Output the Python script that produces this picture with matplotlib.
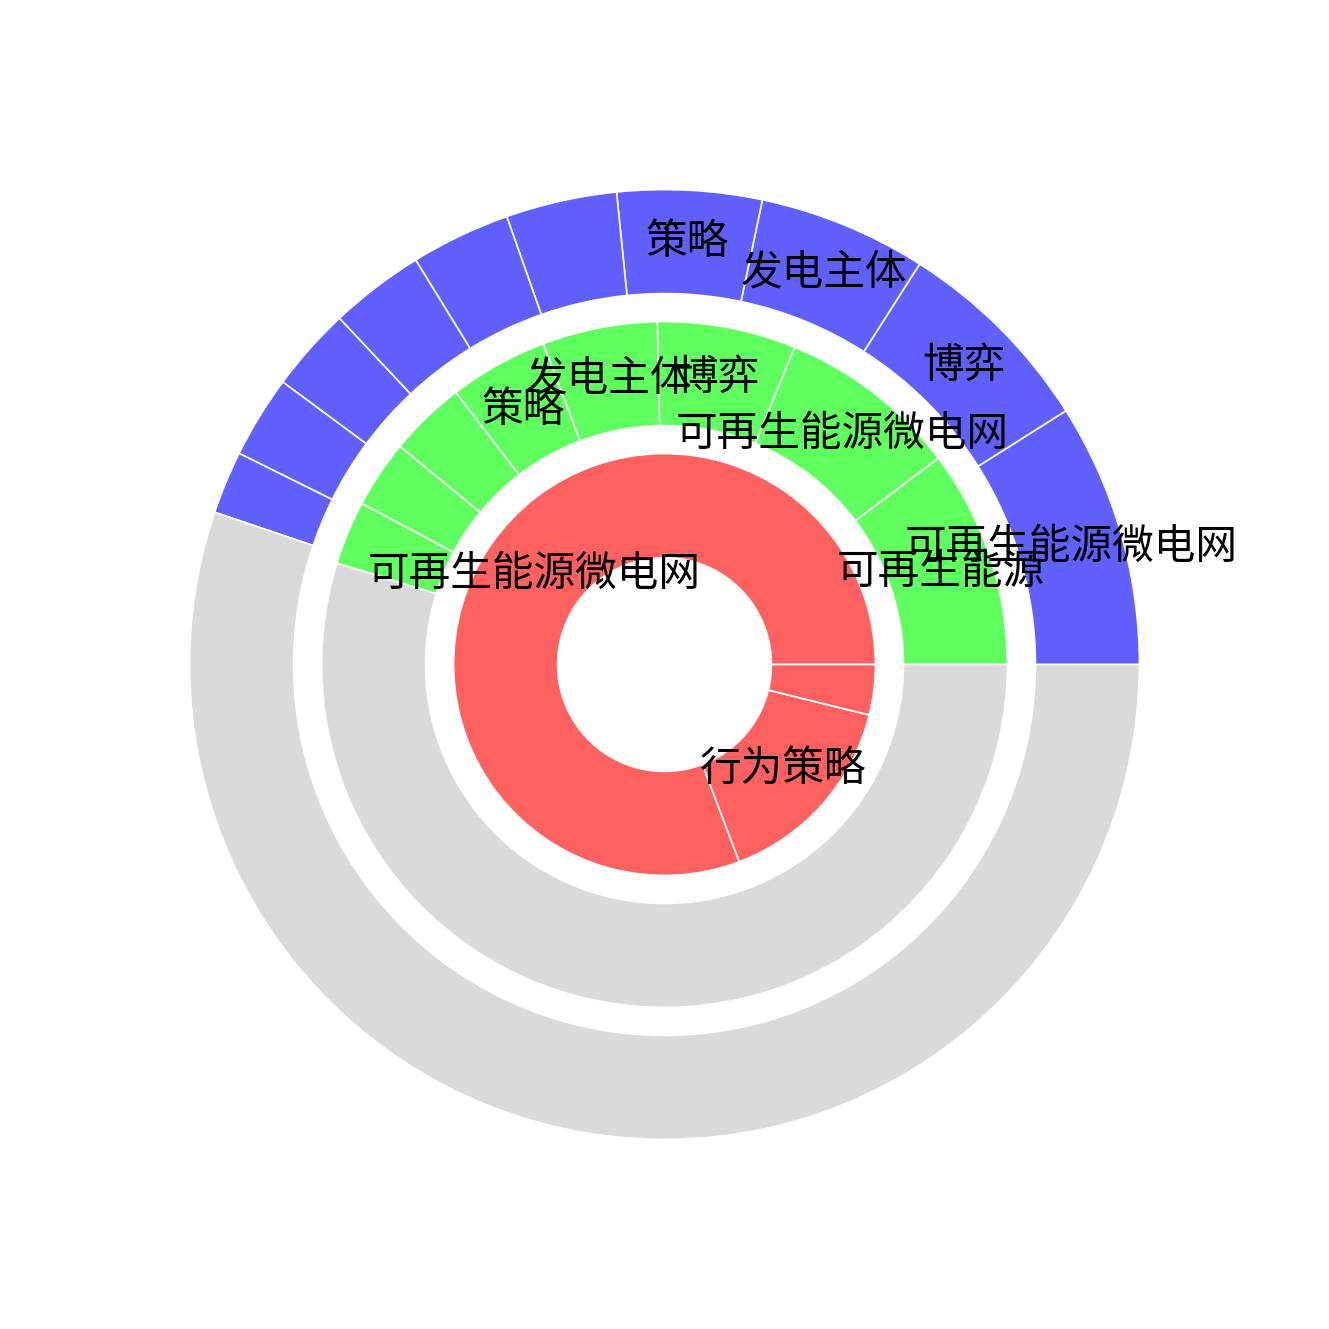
import numpy as np
import matplotlib
matplotlib.use("Agg")
import matplotlib.pyplot as plt

plt.rcParams['font.family'] = ['Noto Sans CJK SC', 'DejaVu Sans']

# ring data, values on a 360 scale (grey fills what is left)
inner_vals = [21, 4, 1]
inner_labels = ['可再生能源微电网', '行为策略', '']

middle_vals = [37.0, 30.7, 23.5, 19.5, 16.8, 13.0, 11.5, 10.8]
middle_labels = ['可再生能源', '可再生能源微电网', '博弈', '发电主体', '策略', '', '', '']

outer_vals = [32.3, 25.2, 20.6, 17.7, 13.6, 12.2, 11.6, 10.3, 10.1, 7.7]
outer_labels = ['可再生能源微电网', '博弈', '发电主体', '策略', '', '', '', '', '', '']

FULL = 360.0
WIDTH = 0.788

fig = plt.figure(figsize=(13.29, 13.29), dpi=100)
ax = fig.add_axes([0, 0, 1, 1])


def ring(vals, labels, color, radius, fill_rest):
    vals = list(vals)
    colors = [color] * len(vals)
    if fill_rest:
        vals.append(FULL - sum(vals))
        colors.append('#dadada')
        labels = list(labels) + ['']
    wedges, _ = ax.pie(vals, radius=radius, colors=colors, startangle=0,
                       counterclock=True, normalize=True,
                       wedgeprops=dict(width=WIDTH, edgecolor='white', linewidth=1.2))
    rmid = radius - WIDTH / 2
    for w, lab in zip(wedges, labels):
        if not lab:
            continue
        ang = np.deg2rad((w.theta1 + w.theta2) / 2)
        ax.text(rmid * np.cos(ang), rmid * np.sin(ang), lab,
                ha='center', va='center', fontsize=30)


ring(inner_vals, inner_labels, '#ff6060', 1.598, False)
ring(middle_vals, middle_labels, '#60ff60', 2.598, True)
ring(outer_vals, outer_labels, '#6060ff', 3.598, True)

lim = 664.5 / 132
ax.set_xlim(-lim, lim)
ax.set_ylim(-lim, lim)
ax.set_aspect('equal')
ax.axis('off')

fig.savefig('out.png', dpi=100)
